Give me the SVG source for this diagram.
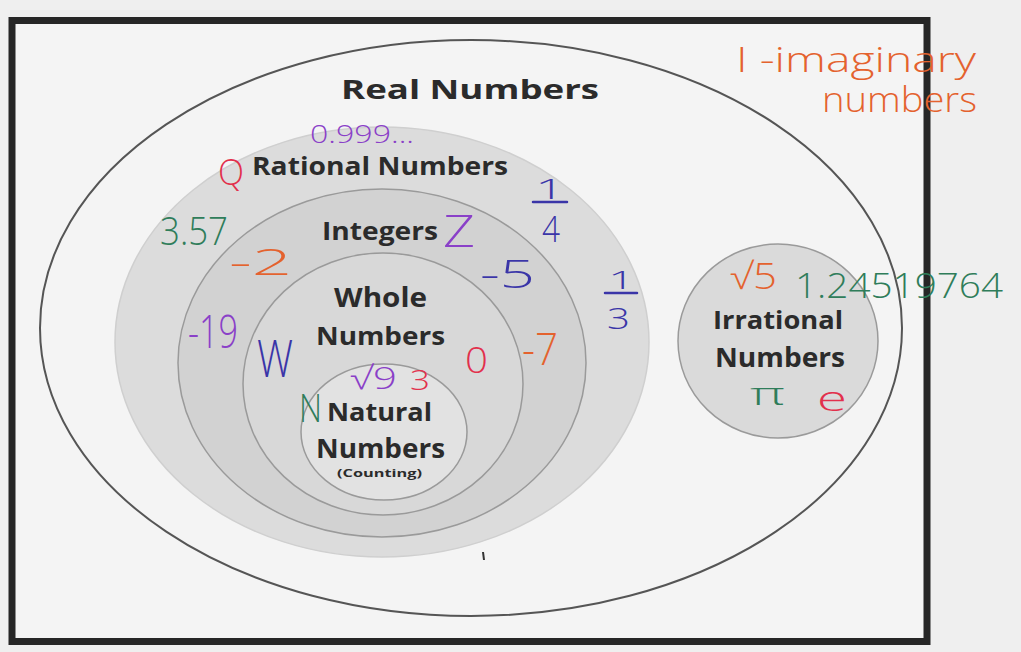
<svg xmlns="http://www.w3.org/2000/svg" width="1021" height="652" viewBox="0 0 1021 652">
<style>
.lbl{font-family:"Open Sans","Liberation Sans",sans-serif;font-weight:bold;fill:#2b2b2b}
.hw{font-family:"Open Sans","Liberation Sans",sans-serif;font-weight:300}
.pur{fill:#8a40c8}.red{fill:#e2304c}.grn{fill:#2f7d5a}.org{fill:#e4622e}.blu{fill:#3a35a8}
.bar{stroke:#3a35a8;stroke-width:2.5;stroke-linecap:round}
.set{stroke:#9a9a9a;stroke-width:1.5}
</style>
<rect x="0" y="0" width="1021" height="652" fill="#efefef"/>
<rect x="12" y="20.5" width="915" height="621" fill="#f4f4f4" stroke="#262626" stroke-width="7"/>
<g id="real">
<ellipse cx="471" cy="328" rx="431" ry="288" fill="none" stroke="#555" stroke-width="2"/>
<text class="lbl" x="341" y="99" font-size="27" textLength="258" lengthAdjust="spacingAndGlyphs">Real Numbers</text>
</g>
<g id="rational">
<ellipse cx="382" cy="342" rx="267" ry="215" fill="#dcdcdc" stroke="#cfcfcf" stroke-width="1.5"/>
<text class="lbl" x="252" y="175" font-size="25" textLength="256" lengthAdjust="spacingAndGlyphs">Rational Numbers</text>
</g>
<g id="integers">
<ellipse cx="382" cy="363" rx="204" ry="174" fill="#d2d2d2" class="set"/>
<text class="lbl" x="322" y="240" font-size="25" textLength="116" lengthAdjust="spacingAndGlyphs">Integers</text>
</g>
<g id="whole">
<ellipse cx="383" cy="384" rx="140" ry="131" fill="#d8d8d8" class="set"/>
<text class="lbl" x="334" y="307" font-size="26" textLength="93" lengthAdjust="spacingAndGlyphs">Whole</text>
<text class="lbl" x="316" y="345" font-size="25" textLength="129" lengthAdjust="spacingAndGlyphs">Numbers</text>
</g>
<g id="natural">
<ellipse cx="384" cy="432" rx="83" ry="68" fill="#e2e2e2" class="set"/>
<text class="lbl" x="327" y="421" font-size="25" textLength="105" lengthAdjust="spacingAndGlyphs">Natural</text>
<text class="lbl" x="316" y="458" font-size="26" textLength="129" lengthAdjust="spacingAndGlyphs">Numbers</text>
<text class="lbl" x="337" y="477" font-size="11" font-weight="normal" textLength="85" lengthAdjust="spacingAndGlyphs">(Counting)</text>
</g>
<g id="irrational">
<ellipse cx="778" cy="341" rx="100" ry="97" fill="#dadada" class="set"/>
<text class="lbl" x="713" y="329" font-size="25" textLength="130" lengthAdjust="spacingAndGlyphs">Irrational</text>
<text class="lbl" x="715" y="367" font-size="26" textLength="130" lengthAdjust="spacingAndGlyphs">Numbers</text>
</g>
<g id="annotations">
<text class="hw org" x="736" y="72" font-size="34" textLength="240" lengthAdjust="spacingAndGlyphs">I -imaginary</text>
<text class="hw org" x="822" y="112" font-size="34" textLength="155" lengthAdjust="spacingAndGlyphs">numbers</text>
<text class="hw pur" x="310" y="143" font-size="26" textLength="104" lengthAdjust="spacingAndGlyphs">0.999...</text>
<text class="hw red" x="218" y="185" font-size="36" textLength="26" lengthAdjust="spacingAndGlyphs">Q</text>
<text class="hw grn" x="160" y="245" font-size="38" textLength="68" lengthAdjust="spacingAndGlyphs">3.57</text>
<text class="hw org" x="229" y="275" font-size="36" textLength="63" lengthAdjust="spacingAndGlyphs">-2</text>
<text class="hw pur" x="443" y="247" font-size="44" textLength="32" lengthAdjust="spacingAndGlyphs">Z</text>
<text class="hw blu" x="535" y="199" font-size="28" textLength="30" lengthAdjust="spacingAndGlyphs">1</text>
<line class="bar" x1="533" y1="202" x2="567" y2="202"/>
<text class="hw blu" x="542" y="242" font-size="36" textLength="18" lengthAdjust="spacingAndGlyphs">4</text>
<text class="hw blu" x="480" y="288" font-size="38" textLength="55" lengthAdjust="spacingAndGlyphs">-5</text>
<text class="hw blu" x="608" y="289" font-size="26" textLength="27" lengthAdjust="spacingAndGlyphs">1</text>
<line class="bar" x1="605" y1="293" x2="637" y2="293"/>
<text class="hw blu" x="607" y="329" font-size="30" textLength="23" lengthAdjust="spacingAndGlyphs">3</text>
<text class="hw pur" x="188" y="348" font-size="46" textLength="50" lengthAdjust="spacingAndGlyphs">-19</text>
<text class="hw blu" x="257" y="377" font-size="52" textLength="36" lengthAdjust="spacingAndGlyphs">W</text>
<text class="hw red" x="465" y="373" font-size="36" textLength="23" lengthAdjust="spacingAndGlyphs">0</text>
<text class="hw org" x="522" y="365" font-size="44" textLength="36" lengthAdjust="spacingAndGlyphs">-7</text>
<text class="hw pur" x="350" y="389" font-size="32" textLength="47" lengthAdjust="spacingAndGlyphs">√9</text>
<text class="hw red" x="410" y="390" font-size="28" textLength="20" lengthAdjust="spacingAndGlyphs">3</text>
<text class="hw grn" x="299" y="422" font-size="38" textLength="23" lengthAdjust="spacingAndGlyphs">N</text>
<text class="hw org" x="730" y="289" font-size="36" textLength="47" lengthAdjust="spacingAndGlyphs">√5</text>
<text class="hw grn" x="795" y="298" font-size="34" textLength="208" lengthAdjust="spacingAndGlyphs">1.24519764</text>
<text class="hw grn" x="750" y="405" font-size="32" textLength="35" lengthAdjust="spacingAndGlyphs">π</text>
<text class="hw red" x="817" y="411" font-size="35" textLength="30" lengthAdjust="spacingAndGlyphs">e</text>
<line x1="483" y1="552" x2="484" y2="560" stroke="#333" stroke-width="2"/>
</g>
</svg>
